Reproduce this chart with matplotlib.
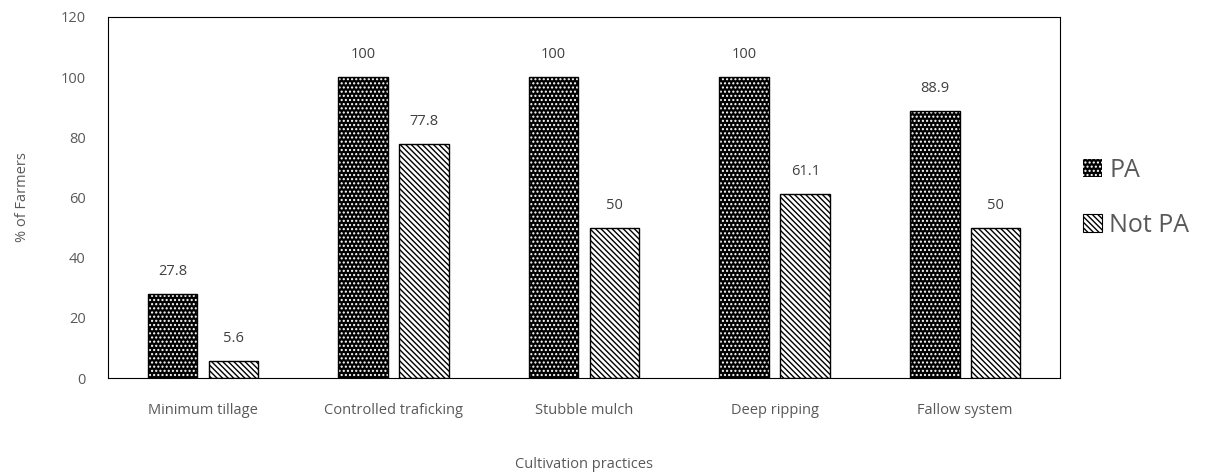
import numpy as np
import matplotlib.pyplot as plt
from matplotlib.patches import Patch

plt.rcParams['font.family'] = ['Open Sans', 'DejaVu Sans']

categories = ["Minimum tillage", "Controlled traficking", "Stubble mulch",
              "Deep ripping", "Fallow system"]
pa = [27.8, 100, 100, 100, 88.9]
not_pa = [5.6, 77.8, 50, 61.1, 50]
pa_labels = ["27.8", "100", "100", "100", "88.9"]
not_pa_labels = ["5.6", "77.8", "50", "61.1", "50"]

grey = "#595959"
fig = plt.figure(figsize=(12.26, 4.72), dpi=100)
ax = fig.add_axes([0.088, 0.199, 0.777, 0.765])

x = np.arange(len(categories))
w = 0.26
off = 0.16

# PA: black bars with white dots
ax.bar(x - off, pa, w, color="black", edgecolor="white", hatch="....", linewidth=0)
ax.bar(x - off, pa, w, fill=False, edgecolor="black", linewidth=1)
# Not PA: white bars with diagonal lines
ax.bar(x + off, not_pa, w, color="white", edgecolor="black", hatch="\\\\\\\\\\\\", linewidth=1)

for xi, v, t in zip(x - off, pa, pa_labels):
    ax.text(xi, v + 5, t, ha="center", va="bottom", fontsize=10.5, color="#404040")
for xi, v, t in zip(x + off, not_pa, not_pa_labels):
    ax.text(xi, v + 5, t, ha="center", va="bottom", fontsize=10.5, color="#404040")

ax.set_xlim(-0.5, len(categories) - 0.5)
ax.set_ylim(0, 120)
ax.set_yticks(range(0, 121, 20))
ax.set_xticks(x)
ax.set_xticklabels(categories)
ax.tick_params(length=0, labelsize=10.5, labelcolor=grey)
ax.tick_params(axis="x", pad=18)
ax.tick_params(axis="y", pad=16)
for s in ax.spines.values():
    s.set_linewidth(0.8)
    s.set_color("black")

ax.set_xlabel("Cultivation practices", fontsize=10.5, color=grey, labelpad=28)
ax.set_ylabel("% of Farmers", fontsize=10.5, color=grey, labelpad=22)

handles = [Patch(facecolor="black", edgecolor="white", hatch="....", linewidth=0),
           Patch(facecolor="white", edgecolor="black", hatch="\\\\\\\\\\\\", linewidth=0.8)]
leg = ax.legend(handles, ["PA", "Not PA"], loc="center left", bbox_to_anchor=(1.0, 0.5),
                frameon=False, fontsize=18, labelcolor=grey, handlelength=0.75,
                handleheight=0.75, labelspacing=1.2, handletextpad=0.3)

fig.savefig("out.png", dpi=100)
